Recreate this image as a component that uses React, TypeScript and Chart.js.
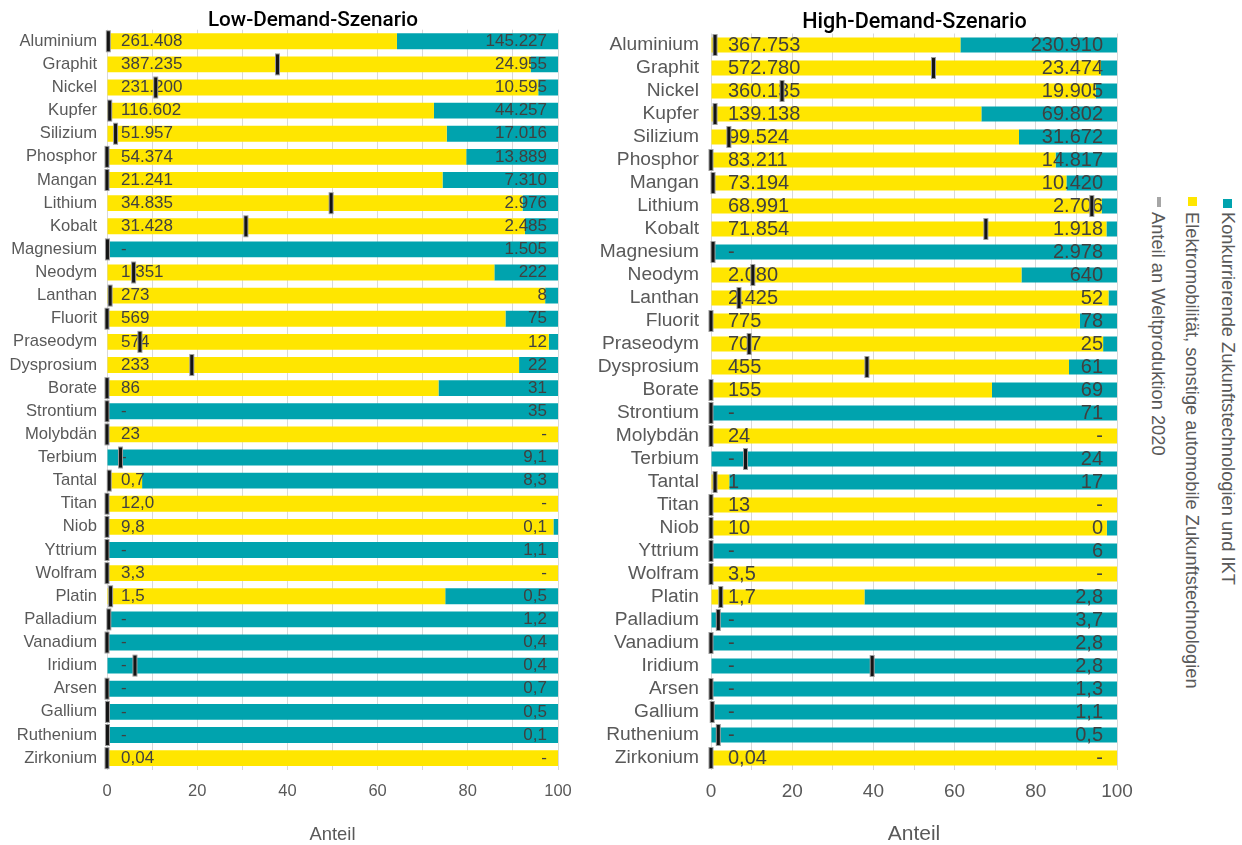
import React, { useEffect, useRef } from 'react';
import { Chart, registerables } from 'chart.js';

Chart.register(...registerables);

const FONT = "'Liberation Sans', Arial, Helvetica, sans-serif";
const TITLE_FONT = "Roboto, 'Liberation Sans', Arial, sans-serif";
const YELLOW = '#FFE600';
const TEAL = '#00A3AE';

const materials = [
  'Aluminium', 'Graphit', 'Nickel', 'Kupfer', 'Silizium', 'Phosphor', 'Mangan', 'Lithium',
  'Kobalt', 'Magnesium', 'Neodym', 'Lanthan', 'Fluorit', 'Praseodym', 'Dysprosium', 'Borate',
  'Strontium', 'Molybdän', 'Terbium', 'Tantal', 'Titan', 'Niob', 'Yttrium', 'Wolfram',
  'Platin', 'Palladium', 'Vanadium', 'Iridium', 'Arsen', 'Gallium', 'Ruthenium', 'Zirkonium',
];

// Low-Demand: Bedarf (Beschriftung) je Sektor
const lowEmobLabels = [
  '261.408', '387.235', '231.200', '116.602', '51.957', '54.374', '21.241', '34.835',
  '31.428', '-', '1.351', '273', '569', '574', '233', '86',
  '-', '23', '-', '0,7', '12,0', '9,8', '-', '3,3',
  '1,5', '-', '-', '-', '-', '-', '-', '0,04',
];
const lowOtherLabels = [
  '145.227', '24.955', '10.595', '44.257', '17.016', '13.889', '7.310', '2.976',
  '2.485', '1.505', '222', '8', '75', '12', '22', '31',
  '35', '-', '9,1', '8,3', '-', '0,1', '1,1', '-',
  '0,5', '1,2', '0,4', '0,4', '0,7', '0,5', '0,1', '-',
];
// Low-Demand: Anteile in %
const lowEmobShare = [
  64.29, 93.95, 95.62, 72.49, 75.33, 79.65, 74.40, 92.13,
  92.67, 0, 85.89, 97.15, 88.35, 97.95, 91.37, 73.50,
  0, 100, 0, 7.78, 100, 98.99, 0, 100,
  75.0, 0, 0, 0, 0, 0, 0, 100,
];
const lowOtherShare = [
  35.71, 6.05, 4.38, 27.51, 24.67, 20.35, 25.60, 7.87,
  7.33, 100, 14.11, 2.85, 11.65, 2.05, 8.63, 26.50,
  100, 0, 100, 92.22, 0, 1.01, 100, 0,
  25.0, 100, 100, 100, 100, 100, 100, 0,
];
const lowWorldShare = [
  0.3, 37.8, 10.8, 0.6, 1.9, 0, 0, 49.7,
  30.8, 0.1, 5.9, 0.7, 0, 7.3, 18.8, 0,
  0, 0, 3.0, 0.5, 0, 0, 0, 0,
  0.8, 0.4, 0, 6.2, 0, 0.1, 0.1, 0,
];

// High-Demand: Bedarf (Beschriftung) je Sektor
const highEmobLabels = [
  '367.753', '572.780', '360.135', '139.138', '99.524', '83.211', '73.194', '68.991',
  '71.854', '-', '2.080', '2.425', '775', '707', '455', '155',
  '-', '24', '-', '1', '13', '10', '-', '3,5',
  '1,7', '-', '-', '-', '-', '-', '-', '0,04',
];
const highOtherLabels = [
  '230.910', '23.474', '19.905', '69.802', '31.672', '14.817', '10.420', '2.706',
  '1.918', '2.978', '640', '52', '78', '25', '61', '69',
  '71', '-', '24', '17', '-', '0', '6', '-',
  '2,8', '3,7', '2,8', '2,8', '1,3', '1,1', '0,5', '-',
];
// High-Demand: Anteile in %
const highEmobShare = [
  61.43, 96.06, 94.76, 66.59, 75.86, 84.88, 87.54, 96.23,
  97.40, 0, 76.47, 97.90, 90.86, 96.58, 88.18, 69.20,
  0, 100, 0, 4.5, 100, 97.5, 0, 100,
  37.8, 0, 0, 0, 0, 0, 0, 100,
];
const highOtherShare = [
  38.57, 3.94, 5.24, 33.41, 24.14, 15.12, 12.46, 3.77,
  2.60, 100, 23.53, 2.10, 9.14, 3.42, 11.82, 30.80,
  100, 0, 100, 95.5, 0, 2.5, 100, 0,
  62.2, 100, 100, 100, 100, 100, 100, 0,
];
const highWorldShare = [
  1.0, 54.8, 17.5, 1.0, 4.4, 0, 0.5, 93.8,
  67.7, 0.5, 10.3, 6.9, 0, 9.4, 38.4, 0,
  0, 0, 8.5, 1.0, 0, 0, 0, 0,
  2.4, 1.8, 0, 39.7, 0, 0.3, 1.8, 0,
];

const labeledTicks = [0, 20, 40, 60, 80, 100];

const seriesNames = [
  'Elektromobilität, sonstige automobile Zukunftstechnologien',
  'Konkurrierende Zukunftstechnologien und IKT',
  'Anteil an Weltproduktion 2020',
];

type Panel = {
  title: string;
  emobShare: number[];
  otherShare: number[];
  emobLabels: string[];
  otherLabels: string[];
  world: number[];
  left: number;
  width: number;
  axisWidth: number;
  padTop: number;
  padRight: number;
  catPad: number;
  catSize: number;
  tickSize: number;
  tickPad: number;
  axisTitleSize: number;
  axisTitleLine: number;
  titleSize: number;
  titleX: number;
  titleY: number;
  xAxisHeight: number;
  valueSize: number;
  insetStart: number;
  insetEnd: number;
  barPct: number;
};

// Left panel: canvas 0..580, plot 107..558
const lowPanel: Panel = {
  title: 'Low-Demand-Szenario',
  emobShare: lowEmobShare,
  otherShare: lowOtherShare,
  emobLabels: lowEmobLabels,
  otherLabels: lowOtherLabels,
  world: lowWorldShare,
  left: 0,
  width: 580,
  axisWidth: 107,
  padTop: 29.7,
  padRight: 22,
  catPad: 10,
  catSize: 16.6,
  tickSize: 16.5,
  tickPad: 12,
  axisTitleSize: 18.4,
  axisTitleLine: 1.1,
  titleSize: 20.7,
  titleX: 313,
  titleY: 21,
  xAxisHeight: 75.3,
  valueSize: 17,
  insetStart: 14,
  insetEnd: 11,
  barPct: 0.69,
};

// Right panel: canvas 585..1145, plot 711..1117
const highPanel: Panel = {
  title: 'High-Demand-Szenario',
  emobShare: highEmobShare,
  otherShare: highOtherShare,
  emobLabels: highEmobLabels,
  otherLabels: highOtherLabels,
  world: highWorldShare,
  left: 585,
  width: 560,
  axisWidth: 126,
  padTop: 33.5,
  padRight: 28,
  catPad: 12,
  catSize: 19.2,
  tickSize: 19,
  tickPad: 10.5,
  axisTitleSize: 21,
  axisTitleLine: 1.0,
  titleSize: 21.6,
  titleX: 329.5,
  titleY: 22.5,
  xAxisHeight: 75.5,
  valueSize: 20,
  insetStart: 17,
  insetEnd: 14,
  barPct: 0.66,
};

// Draws the panel heading, the value labels inside the bars and the
// world-production markers on top of everything.
function makeOverlay(p: Panel) {
  return {
    id: 'overlay',
    afterDatasetsDraw(chart: any) {
      const { ctx, scales } = chart;
      const x = scales.x;
      const y = scales.y;
      ctx.save();
      ctx.textBaseline = 'middle';

      ctx.font = `500 ${p.titleSize}px ${TITLE_FONT}`;
      ctx.fillStyle = '#000000';
      ctx.textAlign = 'center';
      ctx.fillText(p.title, p.titleX, p.titleY);

      ctx.font = `${p.valueSize}px ${FONT}`;
      ctx.fillStyle = '#404040';
      materials.forEach((_, i) => {
        const yc = y.getPixelForValue(i);
        ctx.textAlign = 'left';
        ctx.fillText(p.emobLabels[i], x.getPixelForValue(0) + p.insetStart, yc);
        ctx.textAlign = 'right';
        ctx.fillText(p.otherLabels[i], x.getPixelForValue(100) - p.insetEnd, yc);
      });
      p.world.forEach((v, i) => {
        const xc = x.getPixelForValue(v);
        const yc = y.getPixelForValue(i);
        ctx.fillStyle = '#9c9c9c';
        ctx.fillRect(xc - 2.5, yc - 11, 5, 22);
        ctx.fillStyle = '#141414';
        ctx.fillRect(xc - 1.5, yc - 10, 3, 20);
      });
      ctx.restore();
    },
  };
}

function BarPanel({ p }: { p: Panel }) {
  const ref = useRef<HTMLCanvasElement>(null);
  useEffect(() => {
    if (!ref.current) return;
    const chart = new Chart(ref.current, {
      type: 'bar',
      data: {
        labels: materials,
        datasets: [
          {
            label: seriesNames[0],
            data: p.emobShare,
            backgroundColor: YELLOW,
            borderWidth: 0,
            barPercentage: p.barPct,
            categoryPercentage: 1,
          },
          {
            label: seriesNames[1],
            data: p.otherShare,
            backgroundColor: TEAL,
            borderWidth: 0,
            barPercentage: p.barPct,
            categoryPercentage: 1,
          },
        ],
      },
      options: {
        indexAxis: 'y',
        responsive: false,
        animation: false,
        layout: { padding: { left: 0, right: p.padRight, top: p.padTop, bottom: 0 } },
        plugins: {
          legend: { display: false },
          tooltip: { enabled: false },
          title: { display: false },
        },
        scales: {
          x: {
            stacked: true,
            min: 0,
            max: 100,
            border: { display: false },
            grid: { color: '#d9d9d9', lineWidth: 1, drawTicks: false },
            ticks: {
              stepSize: 10,
              padding: p.tickPad,
              color: '#595959',
              font: { family: FONT, size: p.tickSize },
              maxRotation: 0,
              callback: (v: any) => (labeledTicks.includes(Number(v)) ? String(v) : ''),
            },
            title: {
              display: true,
              text: 'Anteil',
              color: '#595959',
              font: { family: FONT, size: p.axisTitleSize, lineHeight: p.axisTitleLine },
              padding: { top: 0, bottom: 0 },
            },
            afterFit: (s: any) => {
              s.height = p.xAxisHeight;
              s.paddingLeft = 0;
              s.paddingRight = 0;
            },
          },
          y: {
            stacked: true,
            border: { display: false },
            grid: { display: false, drawTicks: false },
            ticks: {
              padding: p.catPad,
              color: '#595959',
              font: { family: FONT, size: p.catSize },
              autoSkip: false,
            },
            afterFit: (s: any) => {
              s.width = p.axisWidth;
              s.paddingTop = 0;
              s.paddingBottom = 0;
            },
          },
        },
      },
      plugins: [makeOverlay(p)],
    } as any);
    return () => chart.destroy();
  }, [p]);
  return (
    <canvas
      ref={ref}
      width={p.width}
      height={845}
      style={{ position: 'absolute', left: p.left, top: 0, width: p.width, height: 845 }}
    />
  );
}

const legendText: React.CSSProperties = {
  position: 'absolute',
  top: 212,
  width: 20,
  lineHeight: '20px',
  fontSize: 18.3,
  fontFamily: FONT,
  color: '#595959',
  writingMode: 'vertical-rl',
  whiteSpace: 'nowrap',
};

function Legend() {
  return (
    <>
      <div style={{ position: 'absolute', left: 1223, top: 199, width: 9, height: 9, background: TEAL }} />
      <div style={{ ...legendText, left: 1218 }}>{seriesNames[1]}</div>
      <div style={{ position: 'absolute', left: 1188, top: 197, width: 9, height: 9, background: YELLOW }} />
      <div style={{ ...legendText, left: 1182 }}>{seriesNames[0]}</div>
      <div style={{ position: 'absolute', left: 1157, top: 197, width: 4, height: 10, background: '#a6a6a6' }} />
      <div style={{ ...legendText, left: 1148 }}>{seriesNames[2]}</div>
    </>
  );
}

export default function App() {
  return (
    <div
      style={{
        position: 'fixed',
        left: 0,
        top: 0,
        width: 1242,
        height: 845,
        background: '#ffffff',
        overflow: 'hidden',
      }}
    >
      <BarPanel p={lowPanel} />
      <BarPanel p={highPanel} />
      <Legend />
    </div>
  );
}
